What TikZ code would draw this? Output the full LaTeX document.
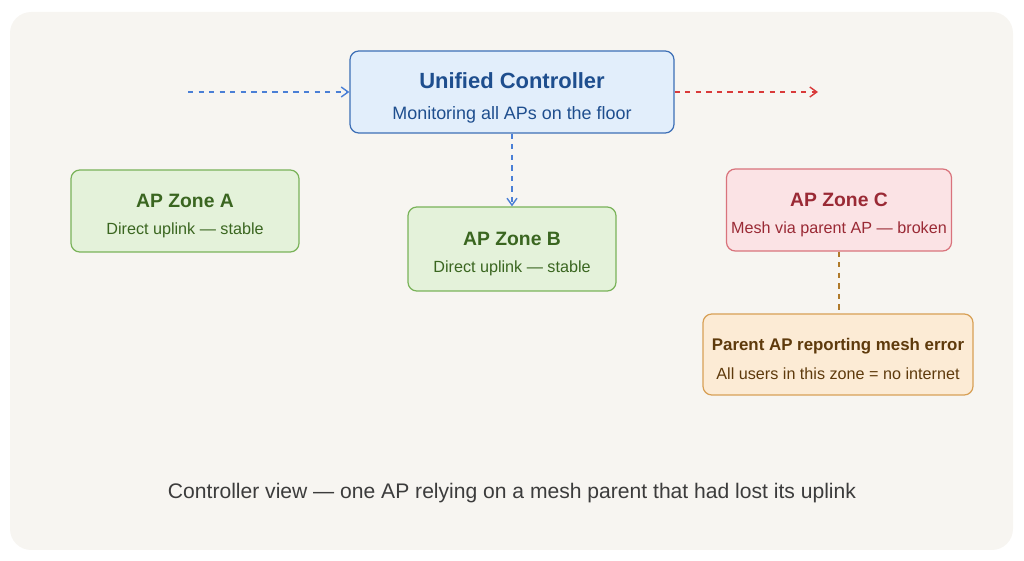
\documentclass[tikz,border=0pt]{standalone}
\usepackage{fontspec}
\setmainfont{Liberation Sans}
\usetikzlibrary{arrows.meta,positioning}
\definecolor{panel}{HTML}{F7F5F1}
\definecolor{ctrlFill}{HTML}{E2EEFB}
\definecolor{ctrlLine}{HTML}{3D6FB6}
\definecolor{ctrlInk}{HTML}{1E4E8E}
\definecolor{okFill}{HTML}{E4F2DA}
\definecolor{okLine}{HTML}{7AB35A}
\definecolor{okInk}{HTML}{3A6620}
\definecolor{badFill}{HTML}{FBE3E5}
\definecolor{badLine}{HTML}{D9737C}
\definecolor{badInk}{HTML}{9A2A35}
\definecolor{warnFill}{HTML}{FCEBD5}
\definecolor{warnLine}{HTML}{D8A056}
\definecolor{warnInk}{HTML}{5E3A0C}
\definecolor{linkBlue}{HTML}{4A7FD6}
\definecolor{linkRed}{HTML}{D93A3A}
\definecolor{linkBrown}{HTML}{B07A2A}
\definecolor{caption}{HTML}{3C3C3C}
\tikzset{
  zonebox/.style={draw,rounded corners=5pt,line width=0.7pt,align=center,inner sep=0pt},
  ctrlbox/.style={zonebox,draw=ctrlLine,fill=ctrlFill,text=ctrlInk},
  okbox/.style={zonebox,draw=okLine,fill=okFill,text=okInk},
  badbox/.style={zonebox,draw=badLine,fill=badFill,text=badInk},
  warnbox/.style={zonebox,draw=warnLine,fill=warnFill,text=warnInk},
  feed/.style={dashed,line width=0.8pt,-{Straight Barb[length=1.4mm,width=2mm]}},
  meshlink/.style={dashed,line width=0.8pt,draw=linkBrown}
}
% the strut pushes the text block a little below the box centre
\newcommand{\boxtitle}[1]{{\rule{0pt}{13pt}\bfseries\fontsize{11}{13}\selectfont #1}}
\newcommand{\boxsub}[1]{{\fontsize{9.2}{11}\selectfont #1}}

\begin{document}
\begin{tikzpicture}[x=0.2mm,y=-0.2mm]
  \useasboundingbox (0,0) rectangle (1024,561);
  \fill[panel,rounded corners=12pt] (10,12) rectangle (1013,550);

  \node[ctrlbox,minimum width=6.48cm,minimum height=1.64cm] (ctrl) at (512,92)
    {{\rule{0pt}{16pt}\bfseries\fontsize{12.5}{14}\selectfont Unified Controller}\\[5.5pt]{\fontsize{10.2}{12}\selectfont Monitoring all APs on the floor}};

  \node[okbox,minimum width=4.56cm,minimum height=1.64cm] (zoneA) at (185,211)
    {\boxtitle{AP Zone A}\\[3.5pt]\boxsub{Direct uplink — stable}};
  \node[okbox,minimum width=4.16cm,minimum height=1.68cm] (zoneB) at (512,249)
    {\boxtitle{AP Zone B}\\[3.5pt]\boxsub{Direct uplink — stable}};
  \node[badbox,minimum width=4.5cm,minimum height=1.64cm] (zoneC) at (839,210)
    {\boxtitle{AP Zone C}\\[3.5pt]\boxsub{Mesh via parent AP — broken}};
  \node[warnbox,minimum width=5.4cm,minimum height=1.62cm] (parent) at (838,354.5)
    {{\rule{0pt}{12pt}\bfseries\fontsize{9.6}{12}\selectfont Parent AP reporting mesh error}\\[5pt]\boxsub{All users in this zone = no internet}};

  \coordinate (feedIn) at (188,92);
  \coordinate (feedOut) at (818,92);
  \draw[feed,draw=linkBlue] (feedIn) -- (ctrl.west);
  \draw[feed,draw=linkRed] (ctrl.east) -- (feedOut);
  \draw[feed,draw=linkBlue] (ctrl.south) -- (zoneB.north);
  \draw[meshlink] (zoneC.south) -- (zoneC.south |- parent.north);

  \node[text=caption,font=\fontsize{12}{14}\selectfont] (note) at (512,493)
    {Controller view — one AP relying on a mesh parent that had lost its uplink};
\end{tikzpicture}
\end{document}
